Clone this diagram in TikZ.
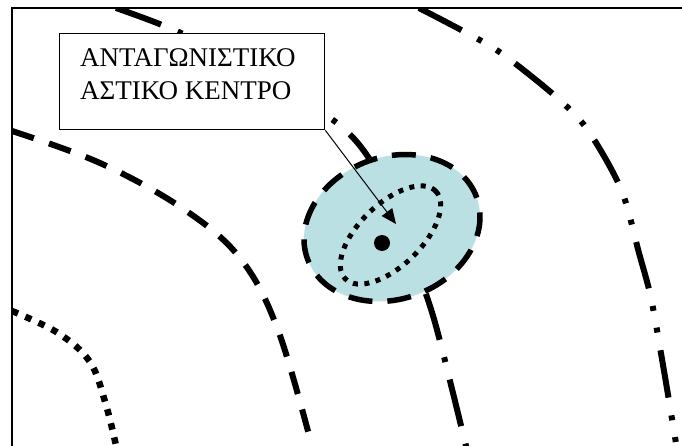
\documentclass[tikz,border=0pt]{standalone}
\usepackage{fontspec}
\setmainfont{Liberation Serif}
\usetikzlibrary{arrows.meta}
\definecolor{zonefill}{RGB}{186,224,228}
\begin{document}
\begin{tikzpicture}[x=1pt,y=-1pt,
  curve/.style={line width=6pt, line cap=butt},
  dashedcurve/.style={curve, dash pattern=on 23pt off 16pt},
  dottedcurve/.style={line width=6.5pt, line cap=butt, dash pattern=on 6.5pt off 8pt},
  dashdot/.style={curve, dash pattern=on 48pt off 18pt on 5pt off 18pt},
  dashdotdot/.style={curve, dash pattern=on 48pt off 18pt on 5pt off 17pt on 5pt off 18pt},
  labelbox/.style={draw, line width=1.3pt, fill=white, minimum width=265pt, minimum height=96pt, inner sep=0pt, anchor=north west},
  labeltext/.style={anchor=base west, inner sep=0pt, font=\fontsize{27pt}{33pt}\selectfont},
  pointer/.style={line width=1pt, -{Triangle[length=15pt,width=13pt]}}
]
\useasboundingbox (0,0) rectangle (682,446);
\fill[white] (0,0) rectangle (682,446);
% frame
\draw[line width=2pt] (12,446) -- (12,8) -- (682,8);
% zone curves
\begin{scope}
\clip (12,8) rectangle (682,446);
\draw[dashedcurve] plot[smooth, tension=0.6] coordinates {(12,131) (100,163) (182,208) (240,258) (278,330) (313,450)};
\draw[dottedcurve] plot[smooth, tension=0.6] coordinates {(12,311) (58,333) (90,362) (106,405) (117,450)};
\draw[dashdot] plot[smooth] coordinates {(116,8) (181,33) (260,76) (337,123) (372,163) (402,228) (428,300) (441,345) (467,450)};
\draw[dashdotdot] plot[smooth] coordinates {(419,8) (463,31) (501,53) (554,95) (587,129) (621,189) (639,253) (651,298) (663,365) (674,431) (677,450)};
\end{scope}
% label box
\node[labelbox] (box) at (59,33) {};
\node[labeltext] (l1) at (80,67) {ΑΝΤΑΓΩΝΙΣΤΙΚΟ};
\node[labeltext] (l2) at (80,100) {ΑΣΤΙΚΟ ΚΕΝΤΡΟ};
% competing centre zone
\path[fill=zonefill, draw, line width=5.5pt, dash pattern=on 24pt off 15pt, rotate around={20:(392,228)}] (392,228) ellipse [x radius=90pt, y radius=71pt];
\draw[line width=5pt, dash pattern=on 5pt off 6.5pt, rotate around={44:(390.5,235)}] (390.5,235) ellipse [x radius=63pt, y radius=31pt];
\fill (382,243) circle [radius=8pt];
\coordinate (tip) at (396,224);
\draw[pointer] (box.south east) -- (tip);
\end{tikzpicture}
\end{document}
